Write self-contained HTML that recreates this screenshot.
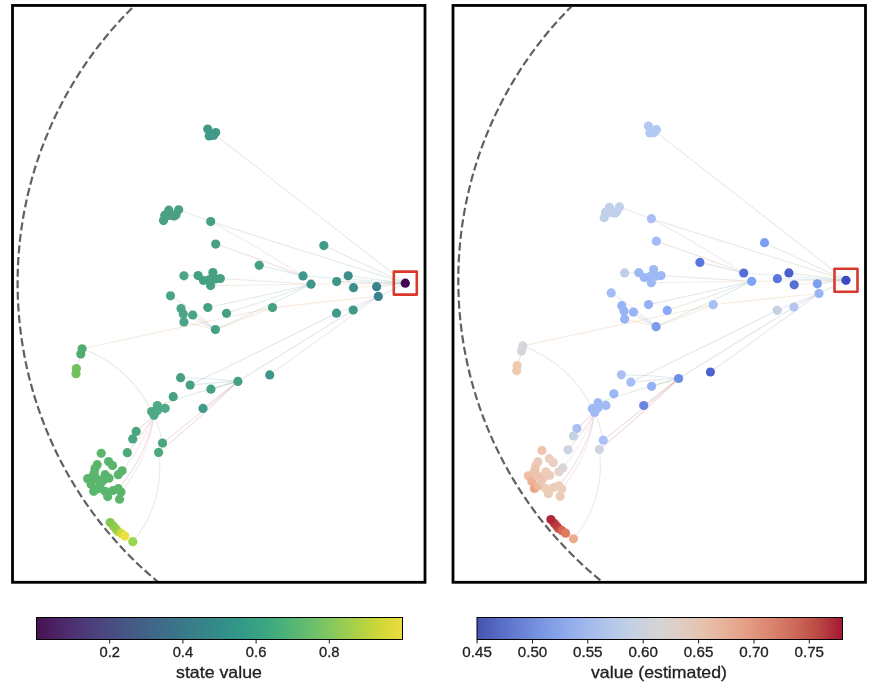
<!DOCTYPE html>
<html><head><meta charset="utf-8"><style>
html,body{margin:0;padding:0;background:#fff;}
svg{display:block;}
text{font-family:"Liberation Sans",sans-serif;fill:#222;stroke:#222;stroke-width:0.3px;}
.txt{will-change:transform;}
.tk{font-size:14.5px;text-anchor:middle;}
.lb{font-size:16.5px;text-anchor:middle;}
.ed path{fill:none;stroke-width:1.1;stroke-opacity:0.17;}
</style></head><body>
<svg width="892" height="686" viewBox="0 0 892 686">
<defs>
<clipPath id="cl"><rect x="14" y="7" width="410" height="574"/></clipPath>
<clipPath id="cr"><rect x="454.5" y="7" width="409.5" height="574"/></clipPath>
<linearGradient id="gv" x1="0" x2="1" y1="0" y2="0"><stop offset="0.0000" stop-color="#471254"/><stop offset="0.0625" stop-color="#4c2668"/><stop offset="0.1250" stop-color="#4d3877"/><stop offset="0.1875" stop-color="#4a4880"/><stop offset="0.2500" stop-color="#455885"/><stop offset="0.3125" stop-color="#406688"/><stop offset="0.3750" stop-color="#3b7389"/><stop offset="0.4375" stop-color="#37808a"/><stop offset="0.5000" stop-color="#338d89"/><stop offset="0.5625" stop-color="#339a87"/><stop offset="0.6250" stop-color="#3ba681"/><stop offset="0.6875" stop-color="#4fb378"/><stop offset="0.7500" stop-color="#69bf6c"/><stop offset="0.8125" stop-color="#89c95b"/><stop offset="0.8750" stop-color="#abd147"/><stop offset="0.9375" stop-color="#cfd736"/><stop offset="1.0000" stop-color="#eedc41"/></linearGradient>
<linearGradient id="gc" x1="0" x2="1" y1="0" y2="0"><stop offset="0.0000" stop-color="#4653b0"/><stop offset="0.0625" stop-color="#576cc6"/><stop offset="0.1250" stop-color="#6a83d6"/><stop offset="0.1875" stop-color="#7d99e3"/><stop offset="0.2500" stop-color="#90aceb"/><stop offset="0.3125" stop-color="#a4bcec"/><stop offset="0.3750" stop-color="#b7c9ea"/><stop offset="0.4375" stop-color="#c7d1e1"/><stop offset="0.5000" stop-color="#d5d4d4"/><stop offset="0.5625" stop-color="#e0ccc1"/><stop offset="0.6250" stop-color="#e7c0ac"/><stop offset="0.6875" stop-color="#e7ae97"/><stop offset="0.7500" stop-color="#e39981"/><stop offset="0.8125" stop-color="#d9816c"/><stop offset="0.8750" stop-color="#cc6757"/><stop offset="0.9375" stop-color="#ba4744"/><stop offset="1.0000" stop-color="#a41732"/></linearGradient>
</defs>
<rect width="892" height="686" fill="#fff"/>
<g clip-path="url(#cl)">
<path d="M793.00,283.20A387.7,387.7 0 1 0 17.60,283.20A387.7,387.7 0 1 0 793.00,283.20" fill="none" stroke="#606060" stroke-width="2.2" stroke-dasharray="8.1 3.55" stroke-dashoffset="8.455"/>
<g class="ed">
<path d="M207.7,129.0L405.3,283.2" stroke="#828282"/>
<path d="M210.7,221.6L405.3,283.2" stroke="#519151"/>
<path d="M178.7,209.8L210.7,221.6" stroke="#828282"/>
<path d="M215.7,244.1A2320.4,2320.4 0 0 1 303.0,275.9" stroke="#aa4a4a"/>
<path d="M210.7,221.6A1426.6,1426.6 0 0 1 303.0,275.9" stroke="#c085ae"/>
<path d="M323.8,245.6L405.3,283.2" stroke="#519151"/>
<path d="M259.2,265.3A3985.1,3985.1 0 0 1 303.0,275.9" stroke="#477799"/>
<path d="M303.0,275.9L405.3,283.2" stroke="#4ca8b1"/>
<path d="M311.0,284.2L405.3,283.2" stroke="#ce8849"/>
<path d="M336.7,281.6L405.3,283.2" stroke="#477799"/>
<path d="M348.2,275.8L405.3,283.2" stroke="#519151"/>
<path d="M353.5,287.7L405.3,283.2" stroke="#ce8849"/>
<path d="M376.6,286.7L405.3,283.2" stroke="#4ca8b1"/>
<path d="M378.3,296.4L405.3,283.2" stroke="#477799"/>
<path d="M272.5,307.6A7118.0,7118.0 0 0 1 378.3,296.4" stroke="#ce8849"/>
<path d="M220.3,278.5A9610.8,9610.8 0 0 1 311.0,284.2" stroke="#828282"/>
<path d="M183.9,275.8L198.1,275.6" stroke="#828282"/>
<path d="M210.6,285.6L311.0,284.2" stroke="#ce8849"/>
<path d="M207.8,307.5A3326.5,3326.5 0 0 0 311.0,284.2" stroke="#477799"/>
<path d="M215.4,329.6A1674.1,1674.1 0 0 0 311.0,284.2" stroke="#519151"/>
<path d="M170.5,295.8A348.6,348.6 0 0 1 215.4,329.6" stroke="#828282"/>
<path d="M183.3,313.9A426.9,426.9 0 0 1 215.4,329.6" stroke="#8d75a4"/>
<path d="M192.7,315.0A382.8,382.8 0 0 1 215.4,329.6" stroke="#477799"/>
<path d="M183.9,322.0A594.0,594.0 0 0 1 215.4,329.6" stroke="#ce8849"/>
<path d="M226.5,313.3A2242.1,2242.1 0 0 0 311.0,284.2" stroke="#519151"/>
<path d="M82.1,348.8L272.5,307.6" stroke="#ce8849"/>
<path d="M76.4,368.5A65.2,65.2 0 0 0 80.8,354.0" stroke="#aa4a4a"/>
<path d="M82.1,348.8A122.2,122.2 0 0 1 151.6,411.6" stroke="#828282"/>
<path d="M157.3,405.6A1054.7,1054.7 0 0 1 237.9,381.4" stroke="#519151"/>
<path d="M180.6,377.7A476.2,476.2 0 0 1 237.9,381.4" stroke="#477799"/>
<path d="M190.1,385.1A614.0,614.0 0 0 1 237.9,381.4" stroke="#477799"/>
<path d="M210.9,389.2A1121.2,1121.2 0 0 1 237.9,381.4" stroke="#519151"/>
<path d="M203.0,408.4A2103.2,2103.2 0 0 0 237.9,381.4" stroke="#aa4a4a"/>
<path d="M237.9,381.4A14959.0,14959.0 0 0 0 353.2,310.0" stroke="#477799"/>
<path d="M269.7,374.9A14205.4,14205.4 0 0 0 378.3,296.4" stroke="#8d75a4"/>
<path d="M190.1,385.1A19471.9,19471.9 0 0 0 336.5,313.2" stroke="#477799"/>
<path d="M336.5,313.2A33975.0,33975.0 0 0 1 378.3,296.4" stroke="#8d75a4"/>
<path d="M353.2,310.0A59096.7,59096.7 0 0 0 378.3,296.4" stroke="#477799"/>
<path d="M136.2,431.4L154.0,415.3" stroke="#aa4a4a"/>
<path d="M122.1,470.8A181.6,181.6 0 0 0 154.0,415.3" stroke="#c085ae"/>
<path d="M127.3,452.7A228.4,228.4 0 0 0 154.0,415.3" stroke="#aa4a4a"/>
<path d="M162.5,443.1A123.1,123.1 0 0 0 154.0,415.3" stroke="#828282"/>
<path d="M162.5,443.1A1566.0,1566.0 0 0 0 237.9,381.4" stroke="#aa4a4a"/>
<path d="M158.6,452.4A1201.1,1201.1 0 0 0 237.9,381.4" stroke="#aa4a4a"/>
<path d="M118.2,488.7A157.3,157.3 0 0 0 154.0,415.3" stroke="#aa4a4a"/>
<path d="M121.0,492.0A149.5,149.5 0 0 0 154.0,415.3" stroke="#c085ae"/>
<path d="M132.8,541.7A113.5,113.5 0 0 0 158.6,452.4" stroke="#828282"/>
<path d="M215.4,329.6A2481.7,2481.7 0 0 0 272.5,307.6" stroke="#ce8849"/>
</g>
<circle cx="207.7" cy="129" r="4.6" fill="#409a8a"/>
<circle cx="215.7" cy="132.6" r="4.6" fill="#409a8a"/>
<circle cx="209.2" cy="135.9" r="4.6" fill="#409a8a"/>
<circle cx="213.5" cy="135.5" r="4.6" fill="#409a8a"/>
<circle cx="163.5" cy="220.6" r="4.6" fill="#4a9f85"/>
<circle cx="164.8" cy="215.2" r="4.6" fill="#4a9f85"/>
<circle cx="168.8" cy="210.2" r="4.6" fill="#4a9f85"/>
<circle cx="174.2" cy="216.1" r="4.6" fill="#4a9f85"/>
<circle cx="178.7" cy="209.8" r="4.6" fill="#4a9f85"/>
<circle cx="176" cy="214.7" r="4.6" fill="#4a9f85"/>
<circle cx="169.5" cy="215.5" r="4.6" fill="#4a9f85"/>
<circle cx="210.7" cy="221.6" r="4.6" fill="#46a084"/>
<circle cx="215.7" cy="244.1" r="4.6" fill="#46a084"/>
<circle cx="183.9" cy="275.8" r="4.6" fill="#4da487"/>
<circle cx="198.1" cy="275.6" r="4.6" fill="#46a084"/>
<circle cx="203.5" cy="280.5" r="4.6" fill="#46a084"/>
<circle cx="212.9" cy="272.5" r="4.6" fill="#46a084"/>
<circle cx="220.3" cy="278.5" r="4.6" fill="#46a084"/>
<circle cx="210.6" cy="285.6" r="4.6" fill="#46a084"/>
<circle cx="209.5" cy="279.5" r="4.6" fill="#46a084"/>
<circle cx="215.5" cy="279" r="4.6" fill="#46a084"/>
<circle cx="170.5" cy="295.8" r="4.6" fill="#4aa487"/>
<circle cx="181" cy="308.6" r="4.6" fill="#4aa487"/>
<circle cx="183.3" cy="313.9" r="4.6" fill="#4aa487"/>
<circle cx="183.9" cy="322" r="4.6" fill="#4aa487"/>
<circle cx="192.7" cy="315" r="4.6" fill="#4aa487"/>
<circle cx="207.8" cy="307.5" r="4.6" fill="#46a084"/>
<circle cx="226.5" cy="313.3" r="4.6" fill="#46a084"/>
<circle cx="215.4" cy="329.6" r="4.6" fill="#46a084"/>
<circle cx="323.8" cy="245.6" r="4.6" fill="#409a8a"/>
<circle cx="259.2" cy="265.3" r="4.6" fill="#45a085"/>
<circle cx="303" cy="275.9" r="4.6" fill="#3f968a"/>
<circle cx="311" cy="284.2" r="4.6" fill="#3f968a"/>
<circle cx="336.7" cy="281.6" r="4.6" fill="#3f968a"/>
<circle cx="272.5" cy="307.6" r="4.6" fill="#46a084"/>
<circle cx="336.5" cy="313.2" r="4.6" fill="#409a8a"/>
<circle cx="348.2" cy="275.8" r="4.6" fill="#3d8d8b"/>
<circle cx="353.5" cy="287.7" r="4.6" fill="#3d8f8b"/>
<circle cx="376.6" cy="286.7" r="4.6" fill="#3a8290"/>
<circle cx="378.3" cy="296.4" r="4.6" fill="#3a8290"/>
<circle cx="353.2" cy="310" r="4.6" fill="#409a8a"/>
<circle cx="82.1" cy="348.8" r="4.6" fill="#52ac72"/>
<circle cx="80.8" cy="354" r="4.6" fill="#52ac72"/>
<circle cx="76.4" cy="368.5" r="4.6" fill="#72c05e"/>
<circle cx="76" cy="373.7" r="4.6" fill="#72c05e"/>
<circle cx="180.6" cy="377.7" r="4.6" fill="#46a084"/>
<circle cx="190.1" cy="385.1" r="4.6" fill="#46a084"/>
<circle cx="210.9" cy="389.2" r="4.6" fill="#46a084"/>
<circle cx="173.2" cy="396.7" r="4.6" fill="#46a084"/>
<circle cx="157.3" cy="405.6" r="4.6" fill="#4ea985"/>
<circle cx="165.2" cy="408.3" r="4.6" fill="#4ea985"/>
<circle cx="151.6" cy="411.6" r="4.6" fill="#4ea985"/>
<circle cx="154" cy="415.3" r="4.6" fill="#4ea985"/>
<circle cx="157.4" cy="410.6" r="4.6" fill="#4ea985"/>
<circle cx="203" cy="408.4" r="4.6" fill="#409a8a"/>
<circle cx="237.9" cy="381.4" r="4.6" fill="#46a084"/>
<circle cx="269.7" cy="374.9" r="4.6" fill="#3f968a"/>
<circle cx="136.2" cy="431.4" r="4.6" fill="#4aa67f"/>
<circle cx="132.7" cy="438.9" r="4.6" fill="#4aa67f"/>
<circle cx="127.3" cy="452.7" r="4.6" fill="#4ea87a"/>
<circle cx="162.5" cy="443.1" r="4.6" fill="#4aa67f"/>
<circle cx="158.6" cy="452.4" r="4.6" fill="#4ea87a"/>
<circle cx="101.2" cy="453.3" r="4.6" fill="#5ab56d"/>
<circle cx="108.6" cy="461.6" r="4.6" fill="#5ab56d"/>
<circle cx="112.5" cy="465.5" r="4.6" fill="#5ab56d"/>
<circle cx="97.2" cy="464.7" r="4.6" fill="#5ab56d"/>
<circle cx="95" cy="468.6" r="4.6" fill="#5ab56d"/>
<circle cx="94.2" cy="473" r="4.6" fill="#5ab56d"/>
<circle cx="122.1" cy="470.8" r="4.6" fill="#5ab56d"/>
<circle cx="118.2" cy="474.7" r="4.6" fill="#5ab56d"/>
<circle cx="87.6" cy="478.7" r="4.6" fill="#5ab56d"/>
<circle cx="105.1" cy="474.7" r="4.6" fill="#5ab56d"/>
<circle cx="109" cy="478.2" r="4.6" fill="#5ab56d"/>
<circle cx="103.4" cy="480" r="4.6" fill="#5ab56d"/>
<circle cx="91.1" cy="484.3" r="4.6" fill="#5ab56d"/>
<circle cx="93.7" cy="491.3" r="4.6" fill="#5ab56d"/>
<circle cx="98.1" cy="488.7" r="4.6" fill="#5ab56d"/>
<circle cx="100.7" cy="483.5" r="4.6" fill="#5ab56d"/>
<circle cx="92.9" cy="476.5" r="4.6" fill="#5ab56d"/>
<circle cx="97" cy="479" r="4.6" fill="#5ab56d"/>
<circle cx="105.1" cy="491.3" r="4.6" fill="#5ab56d"/>
<circle cx="107.7" cy="496.6" r="4.6" fill="#5ab56d"/>
<circle cx="113" cy="490.5" r="4.6" fill="#5ab56d"/>
<circle cx="118.2" cy="488.7" r="4.6" fill="#5ab56d"/>
<circle cx="119.5" cy="499.2" r="4.6" fill="#5ab56d"/>
<circle cx="121" cy="492" r="4.6" fill="#5ab56d"/>
<circle cx="117.8" cy="531.4" r="4.6" fill="#b0d840"/>
<circle cx="116" cy="529" r="4.6" fill="#a0d044"/>
<circle cx="113.6" cy="526.2" r="4.6" fill="#90cc4a"/>
<circle cx="110.2" cy="522.5" r="4.6" fill="#86c850"/>
<circle cx="121.3" cy="533.6" r="4.6" fill="#d0dc3c"/>
<circle cx="124.9" cy="536.1" r="4.6" fill="#eee040"/>
<circle cx="132.8" cy="541.7" r="4.6" fill="#9ad450"/>
<circle cx="405.3" cy="283.2" r="4.6" fill="#440154"/>
<rect x="393.8" y="271.6" width="23" height="23" fill="none" stroke="#d9382c" stroke-width="2.6" stroke-linejoin="round"/>
</g>
<g clip-path="url(#cr)">
<g transform="translate(440.7,-2.9)">
<path d="M793.00,283.20A387.7,387.7 0 1 0 17.60,283.20A387.7,387.7 0 1 0 793.00,283.20" fill="none" stroke="#606060" stroke-width="2.2" stroke-dasharray="8.1 3.55" stroke-dashoffset="8.455"/>
<g class="ed">
<path d="M207.7,129.0L405.3,283.2" stroke="#828282"/>
<path d="M210.7,221.6L405.3,283.2" stroke="#519151"/>
<path d="M178.7,209.8L210.7,221.6" stroke="#828282"/>
<path d="M215.7,244.1A2320.4,2320.4 0 0 1 303.0,275.9" stroke="#aa4a4a"/>
<path d="M210.7,221.6A1426.6,1426.6 0 0 1 303.0,275.9" stroke="#c085ae"/>
<path d="M323.8,245.6L405.3,283.2" stroke="#519151"/>
<path d="M259.2,265.3A3985.1,3985.1 0 0 1 303.0,275.9" stroke="#477799"/>
<path d="M303.0,275.9L405.3,283.2" stroke="#4ca8b1"/>
<path d="M311.0,284.2L405.3,283.2" stroke="#ce8849"/>
<path d="M336.7,281.6L405.3,283.2" stroke="#477799"/>
<path d="M348.2,275.8L405.3,283.2" stroke="#519151"/>
<path d="M353.5,287.7L405.3,283.2" stroke="#ce8849"/>
<path d="M376.6,286.7L405.3,283.2" stroke="#4ca8b1"/>
<path d="M378.3,296.4L405.3,283.2" stroke="#477799"/>
<path d="M272.5,307.6A7118.0,7118.0 0 0 1 378.3,296.4" stroke="#ce8849"/>
<path d="M220.3,278.5A9610.8,9610.8 0 0 1 311.0,284.2" stroke="#828282"/>
<path d="M183.9,275.8L198.1,275.6" stroke="#828282"/>
<path d="M210.6,285.6L311.0,284.2" stroke="#ce8849"/>
<path d="M207.8,307.5A3326.5,3326.5 0 0 0 311.0,284.2" stroke="#477799"/>
<path d="M215.4,329.6A1674.1,1674.1 0 0 0 311.0,284.2" stroke="#519151"/>
<path d="M170.5,295.8A348.6,348.6 0 0 1 215.4,329.6" stroke="#828282"/>
<path d="M183.3,313.9A426.9,426.9 0 0 1 215.4,329.6" stroke="#8d75a4"/>
<path d="M192.7,315.0A382.8,382.8 0 0 1 215.4,329.6" stroke="#477799"/>
<path d="M183.9,322.0A594.0,594.0 0 0 1 215.4,329.6" stroke="#ce8849"/>
<path d="M226.5,313.3A2242.1,2242.1 0 0 0 311.0,284.2" stroke="#519151"/>
<path d="M82.1,348.8L272.5,307.6" stroke="#ce8849"/>
<path d="M76.4,368.5A65.2,65.2 0 0 0 80.8,354.0" stroke="#aa4a4a"/>
<path d="M82.1,348.8A122.2,122.2 0 0 1 151.6,411.6" stroke="#828282"/>
<path d="M157.3,405.6A1054.7,1054.7 0 0 1 237.9,381.4" stroke="#519151"/>
<path d="M180.6,377.7A476.2,476.2 0 0 1 237.9,381.4" stroke="#477799"/>
<path d="M190.1,385.1A614.0,614.0 0 0 1 237.9,381.4" stroke="#477799"/>
<path d="M210.9,389.2A1121.2,1121.2 0 0 1 237.9,381.4" stroke="#519151"/>
<path d="M203.0,408.4A2103.2,2103.2 0 0 0 237.9,381.4" stroke="#aa4a4a"/>
<path d="M237.9,381.4A14959.0,14959.0 0 0 0 353.2,310.0" stroke="#477799"/>
<path d="M269.7,374.9A14205.4,14205.4 0 0 0 378.3,296.4" stroke="#8d75a4"/>
<path d="M190.1,385.1A19471.9,19471.9 0 0 0 336.5,313.2" stroke="#477799"/>
<path d="M336.5,313.2A33975.0,33975.0 0 0 1 378.3,296.4" stroke="#8d75a4"/>
<path d="M353.2,310.0A59096.7,59096.7 0 0 0 378.3,296.4" stroke="#477799"/>
<path d="M136.2,431.4L154.0,415.3" stroke="#aa4a4a"/>
<path d="M122.1,470.8A181.6,181.6 0 0 0 154.0,415.3" stroke="#c085ae"/>
<path d="M127.3,452.7A228.4,228.4 0 0 0 154.0,415.3" stroke="#aa4a4a"/>
<path d="M162.5,443.1A123.1,123.1 0 0 0 154.0,415.3" stroke="#828282"/>
<path d="M162.5,443.1A1566.0,1566.0 0 0 0 237.9,381.4" stroke="#aa4a4a"/>
<path d="M158.6,452.4A1201.1,1201.1 0 0 0 237.9,381.4" stroke="#aa4a4a"/>
<path d="M118.2,488.7A157.3,157.3 0 0 0 154.0,415.3" stroke="#aa4a4a"/>
<path d="M121.0,492.0A149.5,149.5 0 0 0 154.0,415.3" stroke="#c085ae"/>
<path d="M132.8,541.7A113.5,113.5 0 0 0 158.6,452.4" stroke="#828282"/>
<path d="M215.4,329.6A2481.7,2481.7 0 0 0 272.5,307.6" stroke="#ce8849"/>
</g>
<circle cx="207.7" cy="129" r="4.6" fill="#b4c8f4"/>
<circle cx="215.7" cy="132.6" r="4.6" fill="#b4c8f4"/>
<circle cx="209.2" cy="135.9" r="4.6" fill="#b4c8f4"/>
<circle cx="213.5" cy="135.5" r="4.6" fill="#b4c8f4"/>
<circle cx="163.5" cy="220.6" r="4.6" fill="#c0cfea"/>
<circle cx="164.8" cy="215.2" r="4.6" fill="#c0cfea"/>
<circle cx="168.8" cy="210.2" r="4.6" fill="#c0cfea"/>
<circle cx="174.2" cy="216.1" r="4.6" fill="#c0cfea"/>
<circle cx="178.7" cy="209.8" r="4.6" fill="#c0cfea"/>
<circle cx="176" cy="214.7" r="4.6" fill="#c0cfea"/>
<circle cx="169.5" cy="215.5" r="4.6" fill="#c0cfea"/>
<circle cx="210.7" cy="221.6" r="4.6" fill="#a9bff6"/>
<circle cx="215.7" cy="244.1" r="4.6" fill="#a3baf6"/>
<circle cx="183.9" cy="275.8" r="4.6" fill="#c0cfe8"/>
<circle cx="198.1" cy="275.6" r="4.6" fill="#9db8f5"/>
<circle cx="203.5" cy="280.5" r="4.6" fill="#9db8f5"/>
<circle cx="212.9" cy="272.5" r="4.6" fill="#9db8f5"/>
<circle cx="220.3" cy="278.5" r="4.6" fill="#9db8f5"/>
<circle cx="210.6" cy="285.6" r="4.6" fill="#9db8f5"/>
<circle cx="209.5" cy="279.5" r="4.6" fill="#9db8f5"/>
<circle cx="215.5" cy="279" r="4.6" fill="#9db8f5"/>
<circle cx="170.5" cy="295.8" r="4.6" fill="#a3bdf5"/>
<circle cx="181" cy="308.6" r="4.6" fill="#98b4f6"/>
<circle cx="183.3" cy="313.9" r="4.6" fill="#98b4f6"/>
<circle cx="183.9" cy="322" r="4.6" fill="#98b4f6"/>
<circle cx="192.7" cy="315" r="4.6" fill="#98b4f6"/>
<circle cx="207.8" cy="307.5" r="4.6" fill="#94b0f7"/>
<circle cx="226.5" cy="313.3" r="4.6" fill="#8aa8f5"/>
<circle cx="215.4" cy="329.6" r="4.6" fill="#7d9cf0"/>
<circle cx="323.8" cy="245.6" r="4.6" fill="#7b9ff2"/>
<circle cx="259.2" cy="265.3" r="4.6" fill="#5a78dc"/>
<circle cx="303" cy="275.9" r="4.6" fill="#5470d8"/>
<circle cx="311" cy="284.2" r="4.6" fill="#7fa3f5"/>
<circle cx="336.7" cy="281.6" r="4.6" fill="#5a78dc"/>
<circle cx="272.5" cy="307.6" r="4.6" fill="#a7c0f2"/>
<circle cx="336.5" cy="313.2" r="4.6" fill="#c5d0e5"/>
<circle cx="348.2" cy="275.8" r="4.6" fill="#4a5ecc"/>
<circle cx="353.5" cy="287.7" r="4.6" fill="#5670d6"/>
<circle cx="376.6" cy="286.7" r="4.6" fill="#7e9ff0"/>
<circle cx="378.3" cy="296.4" r="4.6" fill="#9ab5f6"/>
<circle cx="353.2" cy="310" r="4.6" fill="#b3c6f0"/>
<circle cx="82.1" cy="348.8" r="4.6" fill="#d5d5da"/>
<circle cx="80.8" cy="354" r="4.6" fill="#d5d5da"/>
<circle cx="76.4" cy="368.5" r="4.6" fill="#edcab0"/>
<circle cx="76" cy="373.7" r="4.6" fill="#edcab0"/>
<circle cx="180.6" cy="377.7" r="4.6" fill="#a8c1f5"/>
<circle cx="190.1" cy="385.1" r="4.6" fill="#a5bef5"/>
<circle cx="210.9" cy="389.2" r="4.6" fill="#93b2f8"/>
<circle cx="173.2" cy="396.7" r="4.6" fill="#9cb7f7"/>
<circle cx="157.3" cy="405.6" r="4.6" fill="#a0baf6"/>
<circle cx="165.2" cy="408.3" r="4.6" fill="#a0baf6"/>
<circle cx="151.6" cy="411.6" r="4.6" fill="#a0baf6"/>
<circle cx="154" cy="415.3" r="4.6" fill="#a0baf6"/>
<circle cx="157.4" cy="410.6" r="4.6" fill="#a0baf6"/>
<circle cx="203" cy="408.4" r="4.6" fill="#6a85e0"/>
<circle cx="237.9" cy="381.4" r="4.6" fill="#6f8ee8"/>
<circle cx="269.7" cy="374.9" r="4.6" fill="#4f63cc"/>
<circle cx="136.2" cy="431.4" r="4.6" fill="#a8c0f2"/>
<circle cx="132.7" cy="438.9" r="4.6" fill="#c4d0e4"/>
<circle cx="127.3" cy="452.7" r="4.6" fill="#cdd3e0"/>
<circle cx="162.5" cy="443.1" r="4.6" fill="#a9c1f4"/>
<circle cx="158.6" cy="452.4" r="4.6" fill="#cfd4e0"/>
<circle cx="101.2" cy="453.3" r="4.6" fill="#eec6ae"/>
<circle cx="108.6" cy="461.6" r="4.6" fill="#eacfc2"/>
<circle cx="112.5" cy="465.5" r="4.6" fill="#eacfc2"/>
<circle cx="97.2" cy="464.7" r="4.6" fill="#eccab8"/>
<circle cx="95" cy="468.6" r="4.6" fill="#eccab8"/>
<circle cx="94.2" cy="473" r="4.6" fill="#ecc4ae"/>
<circle cx="122.1" cy="470.8" r="4.6" fill="#d8d8dc"/>
<circle cx="118.2" cy="474.7" r="4.6" fill="#e5d2ca"/>
<circle cx="87.6" cy="478.7" r="4.6" fill="#eebea4"/>
<circle cx="105.1" cy="474.7" r="4.6" fill="#ecccb9"/>
<circle cx="109" cy="478.2" r="4.6" fill="#ecccb9"/>
<circle cx="103.4" cy="480" r="4.6" fill="#ecccb9"/>
<circle cx="91.1" cy="484.3" r="4.6" fill="#edb092"/>
<circle cx="93.7" cy="491.3" r="4.6" fill="#eda684"/>
<circle cx="98.1" cy="488.7" r="4.6" fill="#ecbca2"/>
<circle cx="100.7" cy="483.5" r="4.6" fill="#ecc6b2"/>
<circle cx="92.9" cy="476.5" r="4.6" fill="#ecc2aa"/>
<circle cx="97" cy="479" r="4.6" fill="#ecc4ae"/>
<circle cx="105.1" cy="491.3" r="4.6" fill="#eccdba"/>
<circle cx="107.7" cy="496.6" r="4.6" fill="#eccdba"/>
<circle cx="113" cy="490.5" r="4.6" fill="#eccdba"/>
<circle cx="118.2" cy="488.7" r="4.6" fill="#eccdba"/>
<circle cx="119.5" cy="499.2" r="4.6" fill="#eccab6"/>
<circle cx="121" cy="492" r="4.6" fill="#eccdba"/>
<circle cx="117.8" cy="531.4" r="4.6" fill="#cc5248"/>
<circle cx="116" cy="529" r="4.6" fill="#c44640"/>
<circle cx="113.6" cy="526.2" r="4.6" fill="#bf3a3c"/>
<circle cx="110.2" cy="522.5" r="4.6" fill="#b0283a"/>
<circle cx="121.3" cy="533.6" r="4.6" fill="#d86550"/>
<circle cx="124.9" cy="536.1" r="4.6" fill="#e07a60"/>
<circle cx="132.8" cy="541.7" r="4.6" fill="#eeac8e"/>
<circle cx="405.3" cy="283.2" r="4.6" fill="#3b4cc0"/>
<rect x="393.8" y="271.6" width="23" height="23" fill="none" stroke="#d9382c" stroke-width="2.6" stroke-linejoin="round"/>
</g>
</g>
<rect x="12.5" y="5.45" width="412.5" height="576.85" fill="none" stroke="#000" stroke-width="2.8"/>
<rect x="453" y="5.45" width="412.5" height="576.85" fill="none" stroke="#000" stroke-width="2.8"/>
<rect x="36.5" y="617.5" width="366" height="22" fill="url(#gv)" stroke="#000" stroke-width="1"/>
<rect x="477" y="617.5" width="365.5" height="22" fill="url(#gc)" stroke="#000" stroke-width="1"/>
<g class="txt">
<line x1="109.7" y1="640" x2="109.7" y2="643.5" stroke="#000" stroke-width="0.9"/>
<text x="109.7" y="657" class="tk" textLength="20.5" lengthAdjust="spacingAndGlyphs">0.2</text>
<line x1="182.9" y1="640" x2="182.9" y2="643.5" stroke="#000" stroke-width="0.9"/>
<text x="182.9" y="657" class="tk" textLength="20.5" lengthAdjust="spacingAndGlyphs">0.4</text>
<line x1="256.1" y1="640" x2="256.1" y2="643.5" stroke="#000" stroke-width="0.9"/>
<text x="256.1" y="657" class="tk" textLength="20.5" lengthAdjust="spacingAndGlyphs">0.6</text>
<line x1="329.3" y1="640" x2="329.3" y2="643.5" stroke="#000" stroke-width="0.9"/>
<text x="329.3" y="657" class="tk" textLength="20.5" lengthAdjust="spacingAndGlyphs">0.8</text>
<line x1="477.1" y1="640" x2="477.1" y2="643.5" stroke="#000" stroke-width="0.9"/>
<text x="477.1" y="657" class="tk" textLength="29.5" lengthAdjust="spacingAndGlyphs">0.45</text>
<line x1="532.5" y1="640" x2="532.5" y2="643.5" stroke="#000" stroke-width="0.9"/>
<text x="532.5" y="657" class="tk" textLength="29.5" lengthAdjust="spacingAndGlyphs">0.50</text>
<line x1="587.8" y1="640" x2="587.8" y2="643.5" stroke="#000" stroke-width="0.9"/>
<text x="587.8" y="657" class="tk" textLength="29.5" lengthAdjust="spacingAndGlyphs">0.55</text>
<line x1="643.2" y1="640" x2="643.2" y2="643.5" stroke="#000" stroke-width="0.9"/>
<text x="643.2" y="657" class="tk" textLength="29.5" lengthAdjust="spacingAndGlyphs">0.60</text>
<line x1="698.6" y1="640" x2="698.6" y2="643.5" stroke="#000" stroke-width="0.9"/>
<text x="698.6" y="657" class="tk" textLength="29.5" lengthAdjust="spacingAndGlyphs">0.65</text>
<line x1="754.0" y1="640" x2="754.0" y2="643.5" stroke="#000" stroke-width="0.9"/>
<text x="754.0" y="657" class="tk" textLength="29.5" lengthAdjust="spacingAndGlyphs">0.70</text>
<line x1="809.3" y1="640" x2="809.3" y2="643.5" stroke="#000" stroke-width="0.9"/>
<text x="809.3" y="657" class="tk" textLength="29.5" lengthAdjust="spacingAndGlyphs">0.75</text>
<text x="219" y="677.8" class="lb" textLength="86" lengthAdjust="spacingAndGlyphs">state value</text>
<text x="659" y="677.8" class="lb" textLength="136" lengthAdjust="spacingAndGlyphs">value (estimated)</text>
</g>
</svg>
</body></html>
